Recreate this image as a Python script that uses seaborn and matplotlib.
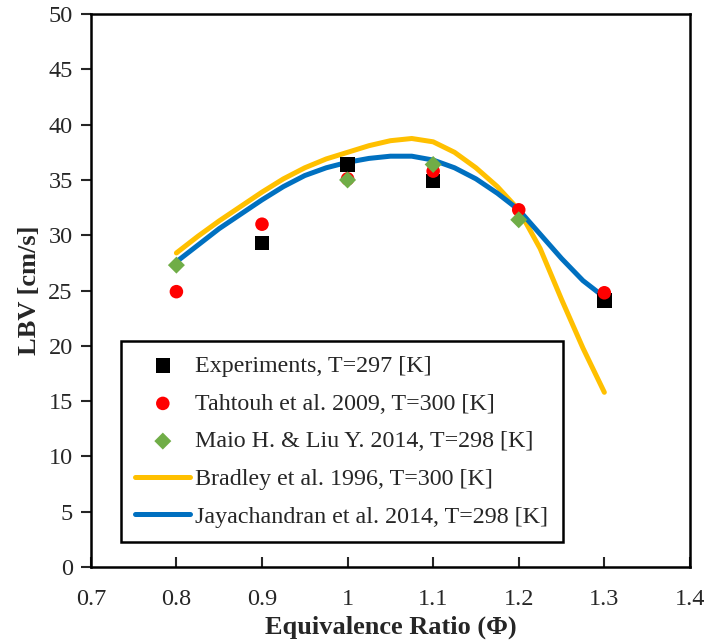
import pandas as pd
import matplotlib
matplotlib.use('Agg')
import matplotlib.pyplot as plt
import seaborn as sns

# measured points
exp_phi = [0.9, 1.0, 1.1, 1.3]
exp_lbv = [29.3, 36.4, 34.9, 24.1]

tah_phi = [0.8, 0.9, 1.0, 1.1, 1.2, 1.3]
tah_lbv = [24.9, 31.0, 35.1, 35.8, 32.3, 24.8]

maio_phi = [0.8, 1.0, 1.1, 1.2]
maio_lbv = [27.3, 35.0, 36.4, 31.4]

# model curves
brad_phi = [0.8, 0.825, 0.85, 0.875, 0.9, 0.925, 0.95, 0.975, 1.0, 1.025, 1.05, 1.075,
            1.1, 1.125, 1.15, 1.175, 1.2, 1.225, 1.25, 1.275, 1.3]
brad_lbv = [28.4, 29.9, 31.3, 32.6, 33.9, 35.1, 36.1, 36.9, 37.5, 38.1, 38.55, 38.75,
            38.45, 37.5, 36.1, 34.4, 32.3, 28.8, 24.2, 19.8, 15.8]

jay_phi = [0.8, 0.825, 0.85, 0.875, 0.9, 0.925, 0.95, 0.975, 1.0, 1.025, 1.05, 1.075,
           1.1, 1.125, 1.15, 1.175, 1.2, 1.225, 1.25, 1.275, 1.3]
jay_lbv = [27.6, 29.1, 30.6, 31.9, 33.2, 34.4, 35.4, 36.1, 36.6, 36.95, 37.15, 37.15,
           36.8, 36.1, 35.1, 33.8, 32.3, 30.1, 27.9, 25.9, 24.4]

sns.set_style('white')
plt.rcParams['font.family'] = ['Liberation Serif', 'DejaVu Serif']

fig = plt.figure(figsize=(7.04, 6.4), dpi=100)
ax = fig.add_axes([0.129, 0.114, 0.851, 0.864])

sns.scatterplot(x=exp_phi, y=exp_lbv, ax=ax, marker='s', s=110, color='black',
                edgecolor='none', label='Experiments, T=297 [K]', zorder=3)
sns.scatterplot(x=tah_phi, y=tah_lbv, ax=ax, marker='o', s=95, color='#FF0000',
                edgecolor='none', label='Tahtouh et al. 2009, T=300 [K]', zorder=4)
sns.scatterplot(x=maio_phi, y=maio_lbv, ax=ax, marker='D', s=75, color='#70AD47',
                edgecolor='none', label='Maio H. & Liu Y. 2014, T=298 [K]', zorder=5)
sns.lineplot(x=brad_phi, y=brad_lbv, ax=ax, sort=False, color='#FFC000', linewidth=3.6,
             label='Bradley et al. 1996, T=300 [K]', zorder=2)
sns.lineplot(x=jay_phi, y=jay_lbv, ax=ax, sort=False, color='#0070C0', linewidth=3.6,
             label='Jayachandran et al. 2014, T=298 [K]', zorder=2)

ax.set_xlim(0.7, 1.4)
ax.set_ylim(0, 50)
ax.set_xticks([0.7, 0.8, 0.9, 1.0, 1.1, 1.2, 1.3, 1.4])
ax.set_xticklabels(['0.7', '0.8', '0.9', '1', '1.1', '1.2', '1.3', '1.4'])
ax.set_yticks(range(0, 51, 5))

for s in ax.spines.values():
    s.set_color('black')
    s.set_linewidth(1.8)

ax.tick_params(axis='y', direction='out', length=7, width=1.5, labelsize=17.5, left=True, pad=6)
ax.tick_params(axis='x', direction='in', length=7, width=1.5, labelsize=17.5, bottom=True, pad=16)

ax.set_xlabel('Equivalence Ratio (\u03a6)', fontsize=19, fontweight='bold', labelpad=4)
ax.set_ylabel('LBV [cm/s]', fontsize=19, fontweight='bold', labelpad=5)

leg = ax.legend(loc='lower left', bbox_to_anchor=(0.05, 0.045), fontsize=17.3,
                frameon=True, fancybox=False, edgecolor='black', framealpha=1,
                handlelength=2.3, handletextpad=0.2, labelspacing=0.66,
                borderpad=0.6, borderaxespad=0)
leg.get_frame().set_linewidth(1.8)

fig.savefig('out.png', dpi=100)
